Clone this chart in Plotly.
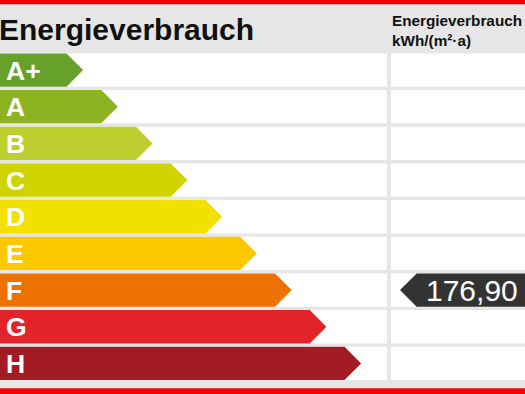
import plotly.graph_objects as go

# ---- data ----
classes = ["A+", "A", "B", "C", "D", "E", "F", "G", "H"]
class_colors = ["#66a22b", "#8db321", "#bdd02f", "#cfd300", "#f2e000",
                "#fdc800", "#ee7203", "#e3232a", "#a31b23"]
title_text = "Energieverbrauch"
column_header = ["Energieverbrauch", "kWh/(m²·a)"]
consumption_value = 176.90
consumption_class = "F"

# ---- geometry (pixel-like coordinate system) ----
W, H = 525, 394
ROW0, PITCH, ROWH = 53.4, 36.67, 33.3
COL_SPLIT_L, COL_SPLIT_R = 387, 391
ARROW_BASE, ARROW_STEP = 66.5, 34.75
FONT = "Liberation Sans, Arial, sans-serif"

fig = go.Figure()
shapes = []
# red strips
shapes.append(dict(type="rect", x0=0, x1=W, y0=0, y1=4.3, fillcolor="#f50000", line_width=0, layer="below"))
shapes.append(dict(type="rect", x0=0, x1=W, y0=388.3, y1=H, fillcolor="#f50000", line_width=0, layer="below"))

for i, (cls, col) in enumerate(zip(classes, class_colors)):
    top = ROW0 + PITCH * i
    bot = top + ROWH
    mid = (top + bot) / 2
    # white cells
    shapes.append(dict(type="rect", x0=0, x1=COL_SPLIT_L, y0=top, y1=bot, fillcolor="white", line_width=0, layer="below"))
    shapes.append(dict(type="rect", x0=COL_SPLIT_R, x1=W, y0=top, y1=bot, fillcolor="white", line_width=0, layer="below"))
    # arrow
    L = ARROW_BASE + ARROW_STEP * i
    tip = L + ROWH / 2
    fig.add_trace(go.Scatter(x=[0, L, tip, L, 0, 0], y=[top, top, mid, bot, bot, top],
                             fill="toself", fillcolor=col, mode="lines",
                             line=dict(width=0, color=col), hoverinfo="skip", showlegend=False))
    fig.add_annotation(x=4, y=mid + 0.5, text=f"<b>{cls}</b>", showarrow=False, xanchor="left", yanchor="middle",
                       font=dict(family=FONT, size=26.5, color="white"))
    if cls == consumption_class:
        lx_tip = 400
        lx_body = lx_tip + ROWH / 2
        fig.add_trace(go.Scatter(x=[W, lx_body, lx_tip, lx_body, W, W], y=[top, top, mid, bot, bot, top],
                                 fill="toself", fillcolor="#333333", mode="lines",
                                 line=dict(width=0, color="#333333"), hoverinfo="skip", showlegend=False))
        fig.add_annotation(x=520, y=mid + 0.5, text=f"{consumption_value:.2f}".replace(".", ","),
                           showarrow=False, xanchor="right", yanchor="middle",
                           font=dict(family=FONT, size=30, color="white"))

# headers
fig.add_annotation(x=0, xshift=-3, y=29.5, text=f"<b>{title_text}</b>", showarrow=False, xanchor="left", yanchor="middle",
                   font=dict(family=FONT, size=30, color="#111111"))
fig.add_annotation(x=390, y=30, text="<b>" + "<br>".join(column_header) + "</b>", showarrow=False,
                   xanchor="left", yanchor="middle", align="left",
                   font=dict(family=FONT, size=15.3, color="#111111"))

fig.update_layout(
    width=W, height=H, margin=dict(l=0, r=0, t=0, b=0),
    paper_bgcolor="#e6e6e6", plot_bgcolor="#e6e6e6",
    xaxis=dict(range=[0, W], visible=False, fixedrange=True),
    yaxis=dict(range=[H, 0], visible=False, fixedrange=True),
    shapes=shapes, showlegend=False,
)
fig.write_html("out.html", config={"displayModeBar": False},
               post_script="document.body.style.margin='0';document.body.style.overflow='hidden';")
